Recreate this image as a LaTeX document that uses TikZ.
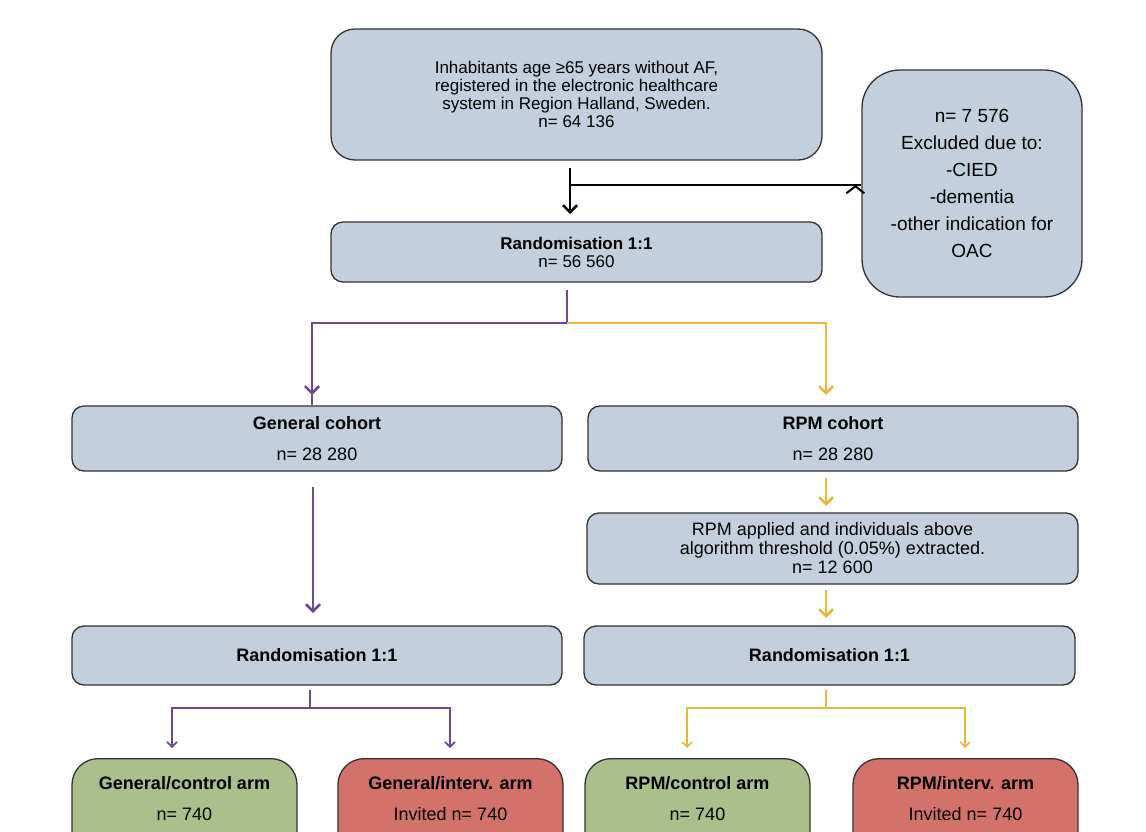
\documentclass[tikz,border=0pt]{standalone}
\usepackage{fontspec}
\setmainfont{Liberation Sans}
\usetikzlibrary{arrows.meta}
\definecolor{boxb}{HTML}{C3CFDD}
\definecolor{boxg}{HTML}{AABF8B}
\definecolor{boxr}{HTML}{D3716B}
\definecolor{purp}{HTML}{6A4A93}
\definecolor{yell}{HTML}{E9B73C}
\begin{document}
\begin{tikzpicture}[x=1pt,y=-1pt,
  box/.style={draw=black!80,line width=1.3pt,rounded corners=12pt,fill=boxb,align=center,font=\fontsize{17}{18}\selectfont,inner sep=0pt},
  arr/.style={line width=2.5pt,-{Straight Barb[length=7pt,width=14pt]}},
  arr2/.style={line width=1.6pt,-{Straight Barb[length=5pt,width=10pt]}}]
\useasboundingbox (0,0) rectangle (1146,832);
\begin{scope}
\clip (0,0) rectangle (1146,832);
\node[box,minimum width=491pt,minimum height=131pt,rounded corners=24pt] (top) at (576.5,94.5) {Inhabitants age ≥65 years without AF,\\registered in the electronic healthcare\\system in Region Halland, Sweden.\\n= 64 136};
\node[box,minimum width=220pt,minimum height=227pt,rounded corners=38pt,font=\fontsize{19}{27}\selectfont] (exc) at (972,183.5) {n= 7 576\\Excluded due to:\\-CIED\\-dementia\\-other indication for\\OAC};
\node[box,minimum width=491pt,minimum height=60pt] (r1) at (576.5,252) {\textbf{Randomisation 1:1}\\n= 56 560};
\node[box,minimum width=490pt,minimum height=65pt,font=\fontsize{18}{31}\selectfont] (gc) at (317,438.5) {\textbf{General cohort}\\n= 28 280};
\node[box,minimum width=490pt,minimum height=65pt,font=\fontsize{18}{31}\selectfont] (rc) at (833,438.5) {\textbf{RPM cohort}\\n= 28 280};
\node[box,minimum width=491pt,minimum height=71pt,font=\fontsize{18}{19}\selectfont] (ra) at (832.5,548.5) {RPM applied and individuals above\\algorithm threshold (0.05\%) extracted.\\n= 12 600};
\node[box,minimum width=490pt,minimum height=59pt,font=\bfseries\fontsize{18}{20}\selectfont] (r2l) at (317,655.5) {Randomisation 1:1};
\node[box,minimum width=491pt,minimum height=59pt,font=\bfseries\fontsize{18}{20}\selectfont] (r2r) at (829.5,655.5) {Randomisation 1:1};
\tikzset{arm/.style={box,minimum width=225pt,minimum height=110pt,rounded corners=26pt,anchor=north,font=\fontsize{18}{31}\selectfont}}
\node[arm,fill=boxg] (b1) at (184.5,758) {\textbf{General/control arm}\\n= 740\\ \phantom{x}};
\node[arm,fill=boxr] (b2) at (450.5,758) {\textbf{General/interv. arm}\\Invited n= 740\\ \phantom{x}};
\node[arm,fill=boxg] (b3) at (697.5,758) {\textbf{RPM/control arm}\\n= 740\\ \phantom{x}};
\node[arm,fill=boxr] (b4) at (965.5,758) {\textbf{RPM/interv. arm}\\Invited n= 740\\ \phantom{x}};
\end{scope}
\coordinate (k) at (570,185);
\draw[arr] (570,168) -- (570,214);
\draw[line width=2pt,-{Straight Barb[length=7pt,width=18pt]}] (k) -- (exc.west|-k) ++(-6,0);
\draw[arr,purp,rounded corners=0] (567,290) -- (567,323) -- (312,323) -- (gc.north-|312,0) ++(0,-11) -- (312,395);
\draw[arr,yell] (567,323) -- (826,323) -- (826,395);
\draw[arr,purp] (313,487) -- (313,613);
\draw[arr,yell] (826,478) -- (826,506);
\draw[arr,yell] (826,590) -- (826,618);
\draw[line width=1.6pt,purp] (310,690) -- (310,708);
\draw[arr2,purp] (310,708) -- (172,708) -- (172,748);
\draw[arr2,purp] (310,708) -- (450,708) -- (450,748);
\draw[line width=1.6pt,yell] (826,690) -- (826,708);
\draw[arr2,yell] (826,708) -- (687,708) -- (687,748);
\draw[arr2,yell] (826,708) -- (965,708) -- (965,748);
\end{tikzpicture}
\end{document}
